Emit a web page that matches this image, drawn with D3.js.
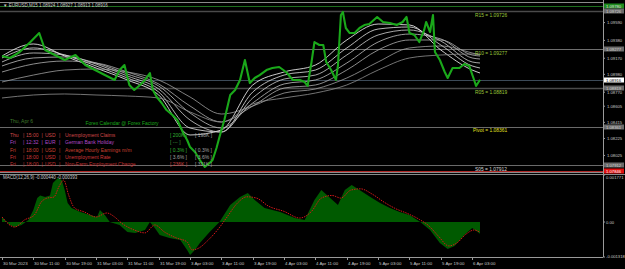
<!DOCTYPE html>
<html><head><meta charset="utf-8">
<script src="https://cdn.jsdelivr.net/npm/d3@7"></script>
<style>html,body{margin:0;padding:0;background:#000;}svg{display:block;}</style>
</head><body>
<svg id="c" width="625" height="269"></svg>
<script>
// ---------- DATA ----------
const symbolTitle = "EURUSD,M15  1.08924 1.08927 1.08913 1.08916";
const macdTitle = "MACD(12,26,9) -0.000440 -0.000393";
const timeLabels = ["30 Mar 2023","30 Mar 11:00","30 Mar 19:00","31 Mar 03:00","31 Mar 11:00","31 Mar 19:00","3 Apr 03:00","3 Apr 11:00","3 Apr 19:00","4 Apr 03:00","4 Apr 11:00","4 Apr 19:00","5 Apr 03:00","5 Apr 11:00","5 Apr 19:00","6 Apr 03:00"];
const timeLabelBars = [0,32,64,96,128,160,192,224,256,288,320,352,384,416,448,480];
const priceTicks = [1.09590,1.09380,1.09170,1.08980,1.08770,1.08605,1.08415,1.08225,1.08025];
const macdTicks = [0.001771,0.00,-0.001318];
const macdTickLabels = ["0.001771","0.00","-0.001318"];

// price (M15) sampled along the bars
const priceBars = [0,8,18,29,36,38,44,54,64,75,85,95,105,115,120,125,130,135,141,146,151,154,158,163,168,174,179,185,189,192,197,202,207,212,215,219,222,227,233,238,243,248,253,258,263,270,276,283,290,297,304,309,312,316,319,324,328,331,336,341,343,346,348,351,355,360,365,370,375,383,389,396,403,409,413,416,421,426,431,433,437,440,442,447,452,455,460,467,472,477,482,484,488];
const priceValues = [1.09196,1.09173,1.09243,1.09361,1.09444,1.09467,1.09267,1.09208,1.09149,1.09208,1.09090,1.09031,1.08972,1.08914,1.09031,1.09090,1.08855,1.08796,1.08855,1.08914,1.08996,1.08796,1.08713,1.08643,1.08560,1.08501,1.08442,1.08289,1.08207,1.08124,1.08065,1.07971,1.07889,1.07936,1.07971,1.08113,1.08242,1.08442,1.08737,1.08796,1.08914,1.09149,1.08878,1.08937,1.08972,1.09031,1.09055,1.09067,1.09008,1.08914,1.08914,1.08890,1.08843,1.09126,1.09361,1.09326,1.09326,1.09126,1.09031,1.08914,1.09090,1.09679,1.09715,1.09526,1.09467,1.09467,1.09526,1.09561,1.09573,1.09656,1.09597,1.09585,1.09561,1.09597,1.09656,1.09467,1.09444,1.09361,1.09503,1.09597,1.09479,1.09679,1.09243,1.09149,1.09008,1.08937,1.09055,1.09055,1.09102,1.09079,1.08914,1.08843,1.08916];

// moving averages sampled every 32 bars (+ last bar)
const maBars = [0,32,64,96,128,160,192,224,256,288,320,352,384,416,448,480,488];
const ma1 = [1.09196,1.09338,1.09196,1.09055,1.08914,1.08737,1.08266,1.08325,1.08855,1.09008,1.09090,1.09385,1.09573,1.09562,1.09267,1.09031,1.08996];
const ma2 = [1.09173,1.09291,1.09208,1.09079,1.08937,1.08772,1.08348,1.08301,1.08772,1.08972,1.09031,1.09291,1.09514,1.09538,1.09326,1.09079,1.09055];
const ma3 = [1.09126,1.09232,1.09208,1.09102,1.08961,1.08808,1.08442,1.08301,1.08702,1.08925,1.08972,1.09208,1.09444,1.09503,1.09373,1.09126,1.09114];
const ma4 = [1.09079,1.09173,1.09185,1.09114,1.08984,1.08843,1.08525,1.08348,1.08643,1.08867,1.08914,1.09114,1.09361,1.09455,1.09397,1.09173,1.09161];
const ma5 = [1.09008,1.09102,1.09137,1.09114,1.09008,1.08867,1.08607,1.08419,1.08607,1.08819,1.08855,1.09031,1.09267,1.09385,1.09385,1.09208,1.09196];
const ma6 = [1.08890,1.08972,1.09031,1.09043,1.09008,1.08914,1.08713,1.08513,1.08607,1.08760,1.08808,1.08937,1.09126,1.09291,1.09314,1.09232,1.09208];
const ma7 = [1.08702,1.08737,1.08749,1.08737,1.08725,1.08702,1.08537,1.08419,1.08631,1.08702,1.08760,1.08855,1.09031,1.09173,1.09208,1.09220,1.09220];
const maSeries = [ma1,ma2,ma3,ma4,ma5,ma6,ma7];

// pivot levels
const levelNames = ["R15","R10","R05","Pivot","S05"];
const levelValues = [1.09726,1.09277,1.08819,1.08361,1.07912];
const currentPrice = 1.08916;
const highPrice = 1.09780;
const topLine = 1.09832;
const lowPrice = 1.07846;

// MACD main (histogram) and signal
const macdBars = [0,3,8,13,20,27,32,36,39,44,49,52,57,61,64,67,71,80,90,97,100,105,110,120,128,136,146,151,156,161,171,182,189,192,197,202,212,222,233,243,251,258,268,284,299,309,319,326,335,343,350,357,365,376,386,396,406,416,427,437,447,455,462,472,480,488];
const macdValues = [0.00019,0.00008,-0.00011,-0.00019,-0.00011,0.00008,0.00045,0.00090,0.00100,0.00094,0.00100,0.00147,0.00166,0.00158,0.00121,0.00072,0.00053,0.00038,0.00026,0.00019,0.00045,0.00026,0.0,-0.00011,-0.00038,-0.00041,-0.00030,0.0,-0.00023,-0.00049,-0.00060,-0.00068,-0.00105,-0.00124,-0.00105,-0.00079,-0.00038,0.0,0.00064,0.00094,0.00109,0.00083,0.00053,0.00038,0.00015,0.00008,0.00083,0.00121,0.00090,0.00064,0.00121,0.00139,0.00121,0.00094,0.00072,0.00053,0.00038,0.00026,0.0,-0.00030,-0.00079,-0.00102,-0.00090,-0.00049,-0.00023,-0.00044];
const signalBars = [0,13,23,33,40,46,53,58,63,68,74,84,96,107,115,122,135,146,156,166,178,189,194,201,210,220,230,240,250,260,272,288,304,316,326,337,346,356,366,378,390,402,414,426,436,446,456,464,474,482,488];
const signalValues = [0.00019,-0.00019,0.00008,0.00026,0.00075,0.00090,0.00094,0.00132,0.00158,0.00102,0.00053,0.00038,0.00019,0.00034,0.00019,-0.00004,-0.00030,-0.00041,-0.00011,-0.00038,-0.00060,-0.00075,-0.00105,-0.00098,-0.00070,-0.00030,0.00020,0.00070,0.00095,0.00090,0.00060,0.00040,0.00015,0.00040,0.00090,0.00100,0.00090,0.00120,0.00125,0.00105,0.00075,0.00050,0.00032,0.00010,-0.00015,-0.00055,-0.00090,-0.00080,-0.00045,-0.00030,-0.00039];

// economic calendar
const calHeader = "Thu, Apr 6";
const calTitle = "Forex Calendar @ Forex Factory";
const calDays = ["Thu","Fri","Fri","Fri","Fri"];
const calTimes = ["15:00","12:32","18:00","18:00","18:00"];
const calCurr = ["USD","EUR","USD","USD","USD"];
const calEvents = ["Unemployment Claims","German Bank Holiday","Average Hourly Earnings m/m","Unemployment Rate","Non-Farm Employment Change"];
const calForecast = ["[ 200K ]","[ --- ]","[ 0.3% ]","[ 3.6% ]","[ 236K ]"];
const calPrevious = ["[ 198K ]","","[ 0.3% ]","[ 3.6% ]","[ 311K ]"];

// ---------- DRAW ----------
const svg = d3.select("#c");
const W = 625, H = 269;
const axisX = 603;
const mainTop = 0, mainBot = 172, macdTop = 175, macdBot = 257;
const font = "Liberation Sans, Arial, sans-serif";

svg.append("rect").attr("width",W).attr("height",H).attr("fill","#000");

const x = d3.scaleLinear().domain([0,488]).range([2,480]);
const y = d3.scaleLinear().domain([1.07830,1.09856]).range([mainBot,mainTop]);
const ym = d3.scaleLinear().domain([-0.001318,0.001771]).range([macdBot,macdTop]);
const py = v => Math.round(y(v))+0.5;

const gMain = svg.append("g");
gMain.append("line").attr("x1",0).attr("x2",axisX).attr("y1",py(topLine)).attr("y2",py(topLine)).attr("stroke","#8a8a8a");
gMain.append("line").attr("x1",0).attr("x2",axisX).attr("y1",py(highPrice)).attr("y2",py(highPrice)).attr("stroke","#1e6e1e");

// level lines
const levelColors = ["#4a4a4a","#6e6e6e","#4a4a4a","#6a6a6a","#6a6a6a"];
levelValues.forEach((v,i)=>{
  gMain.append("line").attr("x1",0).attr("x2",axisX).attr("y1",py(v)).attr("y2",py(v))
    .attr("stroke",levelColors[i]).attr("stroke-width",i==0||i==2?1.5:1);
});
gMain.append("line").attr("x1",0).attr("x2",axisX).attr("y1",py(currentPrice)).attr("y2",py(currentPrice)).attr("stroke","#3c4a58").attr("stroke-width",1.2);
gMain.append("line").attr("x1",0).attr("x2",axisX).attr("y1",py(lowPrice)).attr("y2",py(lowPrice)).attr("stroke","#b02828").attr("stroke-width",1.2);

// MAs
const maColors = ["#ffffff","#e6e6e6","#d2d2d2","#c0c0c0","#b0b0b0","#a0a0a0","#909090"];
const maLine = d3.line().x((d,i)=>x(maBars[i])).y(d=>y(d)).curve(d3.curveMonotoneX);
maSeries.forEach((s,i)=>{
  gMain.append("path").attr("d",maLine(s)).attr("fill","none").attr("stroke",maColors[i]).attr("stroke-width",0.8);
});

// price
const pLine = d3.line().x((d,i)=>x(priceBars[i])).y(d=>y(d));
gMain.append("path").attr("d",pLine(priceValues)).attr("fill","none").attr("stroke","#1aa81a").attr("stroke-width",2.1).attr("stroke-linejoin","round");

// level labels
const levelTextColors = ["#9cc83a","#9cc83a","#9cc83a","#e0e020","#d8d8d8"];
levelValues.forEach((v,i)=>{
  gMain.append("text").attr("x", i==3?473:475).attr("y",y(v)+5.5).attr("fill",levelTextColors[i])
    .attr("font-family",font).attr("font-size",4.9).text(levelNames[i]+" = "+v.toFixed(5));
});

// calendar
const cal = svg.append("g").attr("font-family",font).attr("font-size",5);
cal.append("text").attr("x",10).attr("y",122.5).attr("fill","#3f7a2a").text(calHeader);
cal.append("text").attr("x",122).attr("y",125).attr("text-anchor","middle").attr("fill","#1aa81a").text(calTitle);
const rowColors = ["#d04848","#b048c8","#c84030","#d03838","#c03030"];
const fcColors = ["#30b030","#40a040","#30b030","#a0a0a0","#d04040"];
calDays.forEach((d,i)=>{
  const yy = 137 + i*7.3;
  const c = rowColors[i];
  cal.append("text").attr("x",10).attr("y",yy).attr("fill",c).text(d);
  cal.append("text").attr("x",23).attr("y",yy).attr("fill",c).text("|");
  cal.append("text").attr("x",26).attr("y",yy).attr("fill",c).text(calTimes[i]);
  cal.append("text").attr("x",41.5).attr("y",yy).attr("fill",c).text("|");
  cal.append("text").attr("x",45).attr("y",yy).attr("fill",c).text(calCurr[i]);
  cal.append("text").attr("x",59).attr("y",yy).attr("fill",c).text("|");
  cal.append("text").attr("x",65).attr("y",yy).attr("fill",c).text(calEvents[i]);
  cal.append("text").attr("x",170).attr("y",yy).attr("fill",fcColors[i]).text(calForecast[i]);
  cal.append("text").attr("x",195).attr("y",yy).attr("fill","#a0a0a0").text(calPrevious[i]);
});

// MACD
const gM = svg.append("g");
const area = d3.area().x((d,i)=>x(macdBars[i])).y0(ym(0)).y1(d=>ym(d));
gM.append("path").attr("d",area(macdValues)).attr("fill","#005a00");
const sLine = d3.line().x((d,i)=>x(signalBars[i])).y(d=>ym(d)).curve(d3.curveMonotoneX);
gM.append("path").attr("d",sLine(signalValues)).attr("fill","none").attr("stroke","#d01818").attr("stroke-width",1).attr("stroke-dasharray","1.5,1");

// frame
svg.append("line").attr("x1",axisX+0.5).attr("x2",axisX+0.5).attr("y1",0).attr("y2",macdBot).attr("stroke","#9a9a9a");
svg.append("line").attr("x1",0).attr("x2",axisX).attr("y1",mainBot+0.5).attr("y2",mainBot+0.5).attr("stroke","#8a8a8a");
svg.append("line").attr("x1",0).attr("x2",W).attr("y1",macdTop-0.5).attr("y2",macdTop-0.5).attr("stroke","#8a8a8a");
svg.append("line").attr("x1",0).attr("x2",axisX).attr("y1",macdBot+0.5).attr("y2",macdBot+0.5).attr("stroke","#9a9a9a");

// titles
svg.append("text").attr("x",3).attr("y",6.5).attr("fill","#c8c8c8").attr("font-family",font).attr("font-size",4.5).text("▼ "+symbolTitle);
svg.append("text").attr("x",3).attr("y",179).attr("fill","#c8c8c8").attr("font-family",font).attr("font-size",4.5).text(macdTitle);

// right axis (main)
const ax = svg.append("g").attr("font-family",font).attr("font-size",4.2);
priceTicks.forEach(v=>{
  const yy = y(v);
  ax.append("line").attr("x1",axisX).attr("x2",axisX+2).attr("y1",yy).attr("y2",yy).attr("stroke","#9a9a9a");
  ax.append("text").attr("x",axisX+4).attr("y",yy+1.5).attr("fill","#c8c8c8").text(v.toFixed(5));
});
function box(v, bg, fg){
  const yy = Math.round(y(v));
  ax.append("rect").attr("x",axisX+1).attr("y",yy-2.5).attr("width",20).attr("height",5).attr("fill",bg);
  ax.append("text").attr("x",axisX+3).attr("y",yy+1.6).attr("fill",fg).text(v.toFixed(5));
}
box(highPrice,"#1e8c1e","#e0e0e0");
levelValues.forEach(v=>box(v,"#6a6a6a","#d0d0d0"));
box(currentPrice,"#ffffff","#000000");
box(lowPrice,"#e01010","#ffffff");

// MACD axis
macdTicks.forEach((v,i)=>{
  const yy = ym(v);
  ax.append("line").attr("x1",axisX).attr("x2",axisX+2).attr("y1",yy).attr("y2",yy).attr("stroke","#9a9a9a");
  ax.append("text").attr("x",axisX+3).attr("y",i==0?yy+3.5:(i==2?yy+0.5:yy+1.5)).attr("fill","#c8c8c8").text(macdTickLabels[i]);
});

// bottom time axis
timeLabelBars.forEach((b,i)=>{
  const xx = Math.round(x(b));
  svg.append("line").attr("x1",xx+0.5).attr("x2",xx+0.5).attr("y1",macdBot).attr("y2",macdBot+3).attr("stroke","#9a9a9a");
  svg.append("text").attr("x",xx+1).attr("y",264.5).attr("fill","#c8c8c8").attr("font-family",font).attr("font-size",4.4).text(timeLabels[i]);
});
</script>
</body></html>
